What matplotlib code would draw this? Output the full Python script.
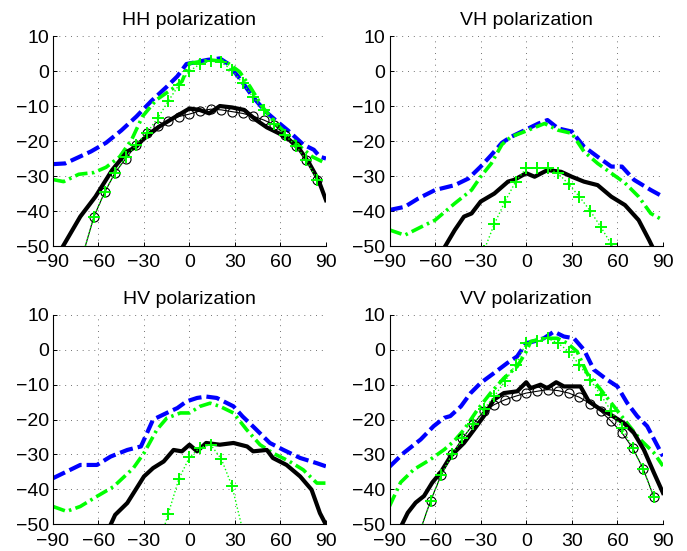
import matplotlib
matplotlib.use("Agg")
import matplotlib.pyplot as plt

plt.rcParams['font.family'] = ['Liberation Sans', 'DejaVu Sans']

# ---- HH polarization ----
hh_blue_x = [-90, -82, -75, -65, -55, -45, -35, -25, -15, -8, -2, 5, 12, 20, 25, 32, 42, 50, 58, 65, 75, 82, 86, 90]
hh_blue_y = [-26.6, -26.4, -25, -23, -20.5, -17, -13, -8.5, -4.5, -1.5, 2, 2.6, 3.2, 3.6, 2.2, -1.5, -7.5, -11.5, -14.5, -17, -21, -22.5, -24.5, -25]
hh_green_x = [-90, -83, -73, -63, -55, -46, -38, -31, -22, -11, -5, 0, 7, 15, 24, 33, 40, 48, 57, 66, 73, 81, 90]
hh_green_y = [-31, -31.6, -29.5, -29, -27.5, -24.5, -19.5, -13, -8.3, -5, -3, 2.2, 2.7, 3.1, 2.7, -0.2, -4.5, -10.2, -15, -18.8, -21.6, -24.5, -26.4]
hh_black_x = [-86, -72, -62, -51, -41, -35, -31, -20, -9, 0, 6.6, 13, 20, 28, 36, 44, 51, 59, 66, 73, 79, 85, 90]
hh_black_y = [-52, -41.6, -35.9, -28.3, -23, -21.6, -19.7, -15.9, -13, -10.7, -11.1, -12.1, -10, -10.4, -11.1, -14, -16.1, -17.8, -19.7, -22.6, -26.4, -31.1, -36.9]
hh_mark_x = [-70, -63, -56, -49, -42, -35, -28, -21, -14, -7, 0, 7, 14, 21, 28, 35, 42, 49, 56, 63, 70, 77, 84]
hh_plus_y = [-52, -41.6, -34.7, -29, -24.6, -21, -17.6, -13.5, -8.6, -4, 0, 2, 3, 2.5, 0.3, -3.5, -7.5, -11.2, -15.2, -18.3, -21.3, -25.4, -31]
hh_circ_y = [-52, -41.6, -34.7, -29, -25, -21.1, -17.8, -15.7, -14.3, -13, -12.3, -11.4, -10.9, -11.1, -11.6, -12.1, -12.9, -14, -15.4, -18.3, -21.3, -25.4, -31]

# ---- VH polarization ----
vh_blue_x = [-90, -80, -71, -60, -47, -38, -30, -23, -16, -10, -1, 8, 14, 21, 30, 38, 47, 56, 63, 71, 82, 90]
vh_blue_y = [-39.7, -38.8, -36.4, -34, -32.6, -30.7, -27.3, -24, -20.5, -18.8, -16.9, -15, -14, -16.4, -17.3, -21.6, -24.5, -27.3, -27.3, -31.1, -34, -35.9]
vh_green_x = [-90, -80, -69, -60, -47, -36, -30, -23, -16, -10, -1, 12, 21, 30, 38, 47, 56, 65, 74, 82, 90]
vh_green_y = [-45.4, -46.9, -44.5, -42.6, -37.8, -34, -30.2, -26.4, -21, -18.8, -17.3, -15, -16.9, -17.8, -23, -26.4, -29.2, -32, -35.9, -40.7, -42.6]
vh_black_x = [-56, -47, -41, -36, -30, -21, -12, -8, 0, 5.5, 14, 23, 30, 38, 47, 56, 65, 74, 81, 85]
vh_black_y = [-52, -45.4, -41.6, -40.7, -37.3, -35, -31.6, -31.1, -29.2, -30.2, -28.3, -28.8, -30.2, -31.6, -32.6, -35.9, -38.3, -42.6, -48.4, -52]
vh_plus_x = [-28, -21, -14, -7, 0, 7, 14, 21, 28, 35, 42, 49, 56, 63]
vh_plus_y = [-51.5, -43.7, -37.3, -31.6, -27.8, -27.8, -27.8, -29.2, -32.4, -35.9, -39.9, -44.5, -49.5, -55]

# ---- HV polarization ----
hv_blue_x = [-90, -81, -72, -61, -52, -41, -32, -24, -15, -8, -2, 5, 11, 18, 29, 35, 42, 53, 62, 73, 84, 90]
hv_blue_y = [-36.8, -34.9, -33, -33, -30.6, -28.7, -27.7, -20, -18.1, -16.7, -14.8, -13.8, -13.4, -13.8, -16.2, -19.1, -22, -26.7, -28.7, -31, -32.5, -33.4]
hv_green_x = [-90, -81, -72, -61, -50, -37, -30, -21.5, -15, -6, 0, 7, 13.6, 20, 29, 37.7, 46.5, 55, 66, 75, 84, 90]
hv_green_y = [-44.9, -46.3, -44.9, -42, -39.2, -33.9, -29.6, -22.9, -19.6, -18.1, -18.1, -16.2, -15.3, -16.2, -18.1, -22.9, -27.2, -29.6, -32, -34.4, -38.2, -38.2]
hv_black_x = [-54, -49, -41, -30, -24, -17, -10.5, -5, 0, 5, 11, 20, 29, 38, 42, 51, 55, 64, 73, 80.5, 86, 91]
hv_black_y = [-52, -47.3, -43.9, -36.3, -33.9, -32, -28.7, -29.1, -27.2, -29.1, -26.7, -27.2, -26.7, -27.7, -29.1, -28.7, -31, -33, -36.3, -40.1, -46.8, -51]
hv_plus_x = [-21, -14, -7, 0, 7, 14, 21, 28, 35, 42]
hv_plus_y = [-57, -47, -37, -30.8, -28, -27.2, -31.3, -39, -51.5, -60]

# ---- VV polarization ----
vv_blue_x = [-90, -80.5, -69.5, -61, -54, -50, -43, -36.6, -30, -21.3, -12.5, -6, 0, 5, 11.6, 18.2, 24.8, 31.4, 38, 44.5, 53.3, 60, 66.4, 73, 79.6, 90]
vv_blue_y = [-33.5, -29.5, -25.7, -21.9, -19.5, -19, -16.2, -12.4, -9.5, -6.7, -3.8, -1.9, 1.9, 2.4, 3.3, 5.2, 3.8, 3.3, 0, -5.7, -8.6, -10.5, -15.2, -19, -21.9, -30.5]
vv_green_x = [-90, -82.7, -74, -63, -54, -47.6, -41, -32, -23.5, -14.7, -6, 0, 3, 11.6, 20.4, 27, 33.5, 40, 49, 57.7, 66.4, 75, 84, 90]
vv_green_y = [-44.8, -38, -34.3, -31.4, -28.6, -26.2, -22.9, -17.1, -12.4, -8.1, -4.8, -0.5, 2.4, 3.3, 3.3, 1.9, -0.5, -6.7, -11.4, -16.2, -21, -25.7, -29.5, -33.3]
vv_black_x = [-84, -78, -72.8, -67.3, -61.8, -56.4, -49.8, -41, -34.4, -27.9, -21.3, -14.7, -6, 0, 2.9, 9.4, 13.8, 19.7, 24.8, 35.7, 41.2, 49, 55.5, 64.3, 70.8, 77.4, 84, 90]
vv_black_y = [-52, -46.7, -43.8, -41.9, -38, -35.2, -30.5, -26.7, -22.9, -19, -14.3, -12.4, -11.9, -9.3, -11, -10, -11, -9.3, -10.5, -10.5, -14.8, -17.1, -18.6, -21, -23.8, -28.6, -35.2, -41]
vv_mark_x = [-70, -63, -56, -49, -42, -35, -28, -21, -14, -7, 0, 7, 14, 21, 28, 35, 42, 49, 56, 63, 70, 77, 84]
vv_plus_y = [-52, -43.3, -35.9, -30, -25.4, -21.4, -17.1, -13.3, -9, -4.3, 2, 2.4, 3.3, 1.9, -0.5, -4.3, -8.6, -12.9, -17.6, -22.4, -28.1, -34.1, -42.2]
vv_circ_y = [-52, -43.3, -35.9, -30, -25.4, -21.4, -17.6, -15.7, -14.3, -13.3, -12.4, -11.9, -11.4, -11.7, -12.4, -13.6, -15.4, -17.6, -20.5, -23.8, -28.1, -34.1, -42.2]

x_ticks = [-90, -60, -30, 0, 30, 60, 90]
y_ticks = [-50, -40, -30, -20, -10, 0, 10]

BLUE = '#0000ff'
GREEN = '#00ff00'

fig = plt.figure(figsize=(6.87, 5.51), dpi=100)

panels = [
    ("HH polarization", [0.0771, 0.5535, 0.3974, 0.3811],
     (hh_blue_x, hh_blue_y), (hh_green_x, hh_green_y), (hh_black_x, hh_black_y),
     (hh_mark_x, hh_plus_y), (hh_mark_x, hh_circ_y)),
    ("VH polarization", [0.567, 0.5535, 0.398, 0.3811],
     (vh_blue_x, vh_blue_y), (vh_green_x, vh_green_y), (vh_black_x, vh_black_y),
     (vh_plus_x, vh_plus_y), None),
    ("HV polarization", [0.0771, 0.0485, 0.3974, 0.380],
     (hv_blue_x, hv_blue_y), (hv_green_x, hv_green_y), (hv_black_x, hv_black_y),
     (hv_plus_x, hv_plus_y), None),
    ("VV polarization", [0.567, 0.0485, 0.398, 0.380],
     (vv_blue_x, vv_blue_y), (vv_green_x, vv_green_y), (vv_black_x, vv_black_y),
     (vv_mark_x, vv_plus_y), (vv_mark_x, vv_circ_y)),
]

for title, rect, blue, green, black, plus, circ in panels:
    ax = fig.add_axes(rect)
    ax.plot(blue[0], blue[1], color=BLUE, linewidth=3, linestyle=(0, (3.2, 1.2)))
    ax.plot(green[0], green[1], color=GREEN, linewidth=2.6, linestyle=(0, (3.5, 1.2, 0.7, 1.2)))
    ax.plot(black[0], black[1], color='black', linewidth=3)
    if circ is not None:
        ax.plot(circ[0], circ[1], color='black', linewidth=0.8, marker='o',
                markersize=6.5, markerfacecolor='none', markeredgewidth=0.8)
    ax.plot(plus[0], plus[1], color=GREEN, linewidth=1.0, linestyle=':', marker='+',
            markersize=8, markeredgewidth=1.4)

    ax.set_xlim(-90, 90)
    ax.set_ylim(-50, 10)
    ax.set_xticks(x_ticks)
    ax.set_yticks(y_ticks)
    ax.grid(True, color='0.45', linestyle=(0, (1, 5)), linewidth=0.7)
    ax.spines['top'].set_visible(False)
    ax.spines['right'].set_visible(False)
    ax.spines['left'].set_linewidth(0.8)
    ax.spines['bottom'].set_linewidth(0.8)
    ax.tick_params(direction='in', length=3, width=0.7, labelsize=14)
    ax.tick_params(axis='y', pad=3)
    ax.tick_params(axis='x', pad=6)
    ax.set_title(title, fontsize=14, pad=8)

fig.savefig("out.png", dpi=100)
